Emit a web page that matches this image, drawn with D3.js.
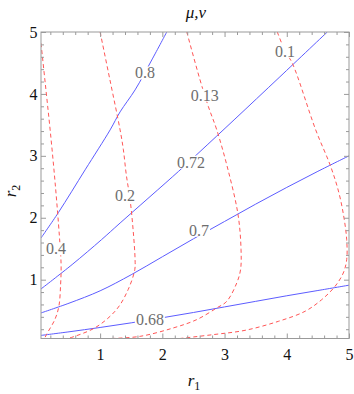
<!DOCTYPE html>
<html><head><meta charset="utf-8">
<script src="https://cdn.jsdelivr.net/npm/d3@7"></script>
<style>body{margin:0;background:#fff} svg text{font-family:"Liberation Serif","Times New Roman",serif}</style>
</head><body>
<svg id="c" width="354" height="394"></svg>
<script>
// ---------- data ----------
const xDomain = [0.05, 5];
const yDomain = [0.05, 5];
const majorTicks = [1, 2, 3, 4, 5];
const minorTicks = d3.range(1, 25).map(i => i * 0.2).filter(v => Math.abs(v - Math.round(v)) > 1e-6);

// mu contours (blue, solid): [r1, r2]
const muLevels = ["0.68", "0.7", "0.72", "0.8"];
const mu068 = [[0.05,0.10],[0.5,0.158],[1.0,0.228],[1.5,0.303],[2.0,0.385],[2.5,0.47],[3.0,0.56],[3.5,0.65],[4.0,0.74],[4.5,0.825],[5.0,0.911]];
const mu070 = [[0.05,0.463],[0.5,0.62],[1.0,0.82],[1.5,1.08],[2.0,1.37],[2.5,1.66],[3.0,1.94],[3.5,2.22],[4.0,2.49],[4.5,2.75],[5.0,3.0]];
const mu072 = [[0.05,0.85],[0.55,1.244],[1.021,1.645],[1.321,1.915],[2.258,2.747],[2.606,3.069],[3.153,3.581],[3.89,4.277],[4.651,5.0]];
const mu080 = [[0.05,1.673],[0.33,2.085],[0.759,2.774],[1.161,3.419],[1.321,3.71],[1.562,4.065],[1.83,4.548],[2.071,5.0]];
const muCurves = [mu068, mu070, mu072, mu080];
const muLabelAt = [[1.80,0.355],[2.59,1.80],[2.46,2.90],[1.72,4.34]];

// nu contours (red, dashed): [r1, r2]
const nuLevels = ["0.4", "0.2", "0.13", "0.1"];
const nu040 = [[0.05,4.818],[0.121,4.145],[0.197,3.419],[0.277,2.565],[0.346,1.698],[0.373,1.242],[0.365,0.919],[0.337,0.569],[0.272,0.355],[0.137,0.113],[0.108,0.05]];
const nu020 = [[1.0,5.0],[1.158,4.226],[1.321,3.419],[1.374,3.097],[1.42,2.7],[1.482,2.29],[1.53,1.81],[1.562,1.323],[1.557,1.161],[1.45,0.839],[1.262,0.516],[0.915,0.221],[0.486,0.05]];
const nu013 = [[2.393,5.0],[2.606,4.226],[2.74,3.795],[2.875,3.419],[3.056,2.774],[3.217,2.048],[3.265,1.484],[3.257,1.161],[3.196,0.947],[3.035,0.65],[2.875,0.544],[2.553,0.355],[2.178,0.221],[1.643,0.085],[1.177,0.05]];
const nu010 = [[3.848,5.0],[3.972,4.694],[4.089,4.495],[4.465,3.419],[4.706,2.827],[4.839,2.398],[4.92,1.995],[4.963,1.645],[4.963,1.323],[4.908,1.108],[4.775,0.892],[4.561,0.677],[4.293,0.489],[3.864,0.327],[3.329,0.182],[2.82,0.113],[2.285,0.05]];
const nuCurves = [nu040, nu020, nu013, nu010];
const nuLabelAt = [[0.29,1.50],[1.40,2.36],[2.68,3.98],[3.97,4.69]];

// ---------- drawing ----------
const svg = d3.select("#c");
const L = 41, R = 349, T = 32, B = 338.5;
const x = d3.scaleLinear().domain(xDomain).range([L, R]);
const y = d3.scaleLinear().domain(yDomain).range([B, T]);
const frameColor = "#9a9a9a";

svg.append("defs").append("clipPath").attr("id", "clip")
  .append("rect").attr("x", L).attr("y", T).attr("width", R - L).attr("height", B - T);

const line = d3.line().x(d => x(d[0])).y(d => y(d[1])).curve(d3.curveCatmullRom.alpha(0.5));
const plot = svg.append("g").attr("clip-path", "url(#clip)");

plot.selectAll("path.mu").data(muCurves).join("path").attr("class", "mu")
  .attr("d", line).attr("fill", "none").attr("stroke", "rgb(92,92,255)").attr("stroke-width", 1);
plot.selectAll("path.nu").data(nuCurves).join("path").attr("class", "nu")
  .attr("d", line).attr("fill", "none").attr("stroke", "rgb(255,85,85)").attr("stroke-width", 1)
  .attr("stroke-dasharray", "4,3");

function addLabels(levels, at) {
  levels.forEach((lab, i) => {
    const g = plot.append("g");
    const t = g.append("text").attr("x", x(at[i][0])).attr("y", y(at[i][1]))
      .attr("text-anchor", "middle").attr("dy", "0.35em")
      .attr("font-size", 16).attr("fill", "#6e6e6e").text(lab);
    const bb = t.node().getBBox();
    g.insert("rect", "text").attr("x", bb.x - 1).attr("y", bb.y + 2).attr("width", bb.width + 2)
      .attr("height", bb.height - 4).attr("fill", "#fff");
  });
}
addLabels(muLevels, muLabelAt);
addLabels(nuLevels, nuLabelAt);

// axes
function styleAxis(g) {
  g.select(".domain").remove();
  g.selectAll(".tick line").attr("stroke", frameColor);
  g.selectAll("text").attr("font-family", null).attr("font-size", 16).attr("fill", "#111");
}
svg.append("g").attr("transform", `translate(0,${B})`)
  .call(d3.axisBottom(x).tickValues(majorTicks).tickSize(-5).tickPadding(10).tickFormat(d3.format("d"))).call(styleAxis);
svg.append("g").attr("transform", `translate(0,${B})`)
  .call(d3.axisBottom(x).tickValues(minorTicks).tickSize(-3).tickFormat("")).call(styleAxis);
svg.append("g").attr("transform", `translate(${L},0)`)
  .call(d3.axisLeft(y).tickValues(majorTicks).tickSize(-5).tickPadding(3.5).tickFormat(d3.format("d"))).call(styleAxis);
svg.append("g").attr("transform", `translate(${L},0)`)
  .call(d3.axisLeft(y).tickValues(minorTicks).tickSize(-3).tickFormat("")).call(styleAxis);
svg.append("g").attr("transform", `translate(0,${T})`)
  .call(d3.axisTop(x).tickValues(majorTicks).tickSize(-5).tickFormat("")).call(styleAxis);
svg.append("g").attr("transform", `translate(0,${T})`)
  .call(d3.axisTop(x).tickValues(minorTicks).tickSize(-3).tickFormat("")).call(styleAxis);
svg.append("g").attr("transform", `translate(${R},0)`)
  .call(d3.axisRight(y).tickValues(majorTicks).tickSize(-5).tickFormat("")).call(styleAxis);
svg.append("g").attr("transform", `translate(${R},0)`)
  .call(d3.axisRight(y).tickValues(minorTicks).tickSize(-3).tickFormat("")).call(styleAxis);

svg.append("rect").attr("x", L).attr("y", T).attr("width", R - L).attr("height", B - T)
  .attr("fill", "none").attr("stroke", frameColor).attr("stroke-width", 1);

// title & axis labels
svg.append("text").attr("x", 196).attr("y", 18).attr("text-anchor", "middle")
  .attr("font-size", 17).attr("font-style", "italic").attr("fill", "#111").text("μ,ν");

const xl = svg.append("text").attr("x", 194).attr("y", 386).attr("text-anchor", "middle")
  .attr("font-size", 17).attr("fill", "#111");
xl.append("tspan").attr("font-style", "italic").text("r");
xl.append("tspan").attr("font-size", 12).attr("dy", 4).text("1");

const yl = svg.append("text").attr("transform", "translate(16,191) rotate(-90)").attr("text-anchor", "middle")
  .attr("font-size", 17).attr("fill", "#111");
yl.append("tspan").attr("font-style", "italic").text("r");
yl.append("tspan").attr("font-size", 12).attr("dy", 4).text("2");
</script>
</body></html>
